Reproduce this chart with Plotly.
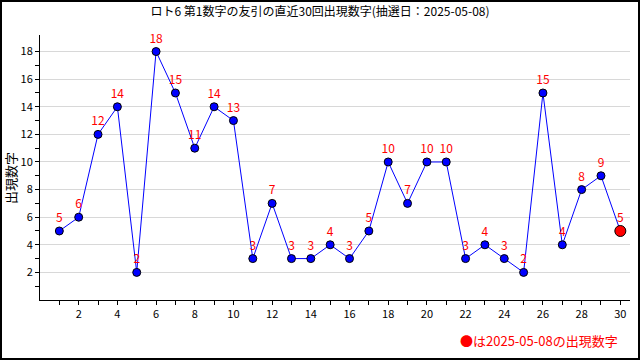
import plotly.graph_objects as go

draws = list(range(1, 31))
values = [5, 6, 12, 14, 2, 18, 15, 11, 14, 13, 3, 7, 3, 3, 4, 3, 5, 10, 7, 10, 10, 3, 4, 3, 2, 15, 4, 8, 9, 5]
title = "ロト6 第1数字の友引の直近30回出現数字(抽選日：2025-05-08)"
y_title = "出現数字"
note = "●は2025-05-08の出現数字"

FONT = "Noto Sans CJK JP"
L, R, T, B = 40, 10, 35, 60
PW, PH = 640 - L - R, 360 - T - B

fig = go.Figure()
fig.add_trace(go.Scatter(
    x=draws, y=values, mode="lines+markers+text",
    line=dict(color="#0000ff", width=1),
    marker=dict(color="#0000ff", size=8, line=dict(color="black", width=1)),
    text=[str(v) for v in values], textposition="top center",
    textfont=dict(color="#ff0000", size=12, family=FONT),
    showlegend=False, cliponaxis=False, hoverinfo="skip",
))
fig.add_trace(go.Scatter(
    x=[draws[-1]], y=[values[-1]], mode="markers",
    marker=dict(color="#ff0000", size=11, line=dict(color="black", width=1)),
    showlegend=False, cliponaxis=False, hoverinfo="skip",
))

fig.update_layout(
    width=640, height=360,
    margin=dict(l=L, r=R, t=T, b=B, autoexpand=False),
    paper_bgcolor="white", plot_bgcolor="white",
    font=dict(family=FONT, size=11, color="black"),
    title=dict(text=title, x=0.5, xanchor="center", y=1 - 12 / 360, yanchor="middle",
               font=dict(size=12, family=FONT, color="black")),
    shapes=[dict(type="rect", xref="paper", yref="paper",
                 x0=-(L - 1) / PW, x1=1 + (R - 1) / PW,
                 y0=-(B - 1) / PH, y1=1 + (T - 1) / PH,
                 line=dict(color="black", width=2))],
    annotations=[
        dict(text=note, xref="paper", yref="paper", x=1 - 10 / PW, y=-(340 - 300) / PH,
             xanchor="right", yanchor="middle", showarrow=False,
             font=dict(color="#ff0000", size=13, family=FONT)),
        dict(text=y_title, xref="paper", yref="paper", x=-(40 - 10) / PW, y=(300 - 178) / PH,
             xanchor="center", yanchor="middle", showarrow=False, textangle=-90,
             font=dict(color="black", size=13, family=FONT)),
    ],
)
fig.update_xaxes(
    range=[0, 30.5], tickvals=list(range(2, 31, 2)), ticks="outside", ticklen=4,
    showline=True, linecolor="black", linewidth=1, showgrid=False, zeroline=False,
    minor=dict(tickvals=list(range(1, 31)), ticks="outside", ticklen=4, tickcolor="black"),
    tickcolor="black", tickfont=dict(size=11),
)
fig.update_yaxes(
    range=[0, 19.2], tickvals=list(range(2, 19, 2)), ticks="outside", ticklen=4,
    showline=True, linecolor="black", linewidth=1, showgrid=True, gridcolor="#d8d8d8",
    zeroline=False, tickcolor="black",
    minor=dict(tickvals=list(range(1, 19, 2)), ticks="outside", ticklen=4, tickcolor="black"),
    tickfont=dict(size=11),
)

fig.write_html("out.html", config={"displayModeBar": False},
               post_script="document.body.style.margin='0';")
